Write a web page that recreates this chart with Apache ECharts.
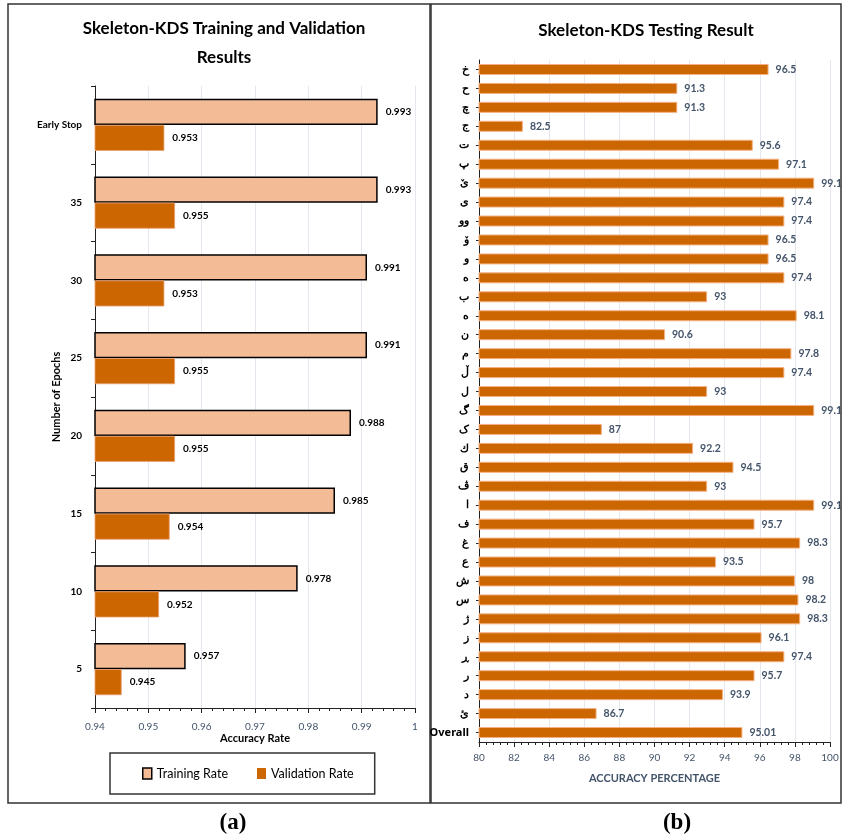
<!DOCTYPE html>
<html>
<head>
<meta charset="utf-8">
<script src="https://cdn.jsdelivr.net/npm/echarts@6/dist/echarts.min.js"></script>
<style>
html, body { margin: 0; padding: 0; background: #fff; }
#chart { width: 842px; height: 838px; }
</style>
</head>
<body>
<div id="chart"></div>
<script>
// (a) training / validation
const epochs = ['5', '10', '15', '20', '25', '30', '35', 'Early Stop']
const trainingRate = [0.957, 0.978, 0.985, 0.988, 0.991, 0.991, 0.993, 0.993]
const validationRate = [0.945, 0.952, 0.954, 0.955, 0.955, 0.953, 0.955, 0.953]

// (b) testing, top to bottom
const letters = ['خ', 'ح', 'چ', 'ج', 'ت', 'پ', 'ێ', 'ی', 'وو', 'ۆ', 'و', 'ە', 'ب', 'ه', 'ن', 'م', 'ڵ', 'ل', 'گ', 'ک', 'ك', 'ق', 'ڤ', 'ا', 'ف', 'غ', 'ع', 'ش', 'س', 'ژ', 'ز', 'ڕ', 'ر', 'د', 'ئ', 'Overall']
const testAccuracy = [96.5, 91.3, 91.3, 82.5, 95.6, 97.1, 99.1, 97.4, 97.4, 96.5, 96.5, 97.4, 93, 98.1, 90.6, 97.8, 97.4, 93, 99.1, 87, 92.2, 94.5, 93, 99.1, 95.7, 98.3, 93.5, 98, 98.2, 98.3, 96.1, 97.4, 95.7, 93.9, 86.7, 95.01]

const FONT = 'Lato'
const SLATE = '#44546A'
const PEACH = '#F4BC96'
const ORANGE = '#CC6600'

const chart = echarts.init(document.getElementById('chart'))

const option = {
	backgroundColor: '#fff',
	textStyle: { fontFamily: FONT },
	animation: false,
	title: [
		{
			text: 'Skeleton-KDS Training and Validation\nResults',
			left: 219, top: 9, textAlign: 'center',
			textStyle: { fontFamily: FONT, fontSize: 17, fontWeight: 'bold', color: '#000', lineHeight: 29 }
		},
		{
			text: 'Skeleton-KDS Testing Result',
			left: 641, top: 17, textAlign: 'center',
			textStyle: { fontFamily: FONT, fontSize: 17, fontWeight: 'bold', color: '#000' }
		},
		{
			text: '(a)', left: 228, top: 807, textAlign: 'center',
			textStyle: { fontFamily: 'Liberation Serif', fontSize: 23, fontWeight: 'bold', color: '#000' }
		},
		{
			text: '(b)', left: 672, top: 807, textAlign: 'center',
			textStyle: { fontFamily: 'Liberation Serif', fontSize: 23, fontWeight: 'bold', color: '#000' }
		}
	],
	graphic: [
		{ type: 'rect', shape: { x: 8, y: 4, width: 422, height: 799 }, style: { fill: 'none', stroke: '#333', lineWidth: 1.5 }, silent: true },
		{ type: 'rect', shape: { x: 431, y: 4, width: 410, height: 799 }, style: { fill: 'none', stroke: '#333', lineWidth: 1.5 }, silent: true }
	],
	legend: {
		left: 110, top: 753,
		padding: [14, 21, 14, 32],
		borderColor: '#333', borderWidth: 1.5,
		itemWidth: 9, itemHeight: 11, itemGap: 29,
		icon: 'rect',
		textStyle: { fontFamily: FONT, fontSize: 12.5, color: '#000' },
		data: [
			{ name: 'Training Rate', itemStyle: { color: PEACH, borderColor: '#000', borderWidth: 1.5 } },
			{ name: 'Validation Rate', itemStyle: { color: ORANGE, borderWidth: 0 } }
		]
	},
	grid: [
		{ left: 95, right: 427, top: 86, bottom: 130 },
		{ left: 479, right: 12, top: 60, bottom: 96 }
	],
	xAxis: [
		{
			gridIndex: 0, type: 'value', min: 0.94, max: 1, interval: 0.01,
			name: 'Accuracy Rate', nameLocation: 'middle', nameGap: 25, nameMoveOverlap: false,
			nameTextStyle: { fontFamily: FONT, fontSize: 11, fontWeight: 'bold', color: '#000' },
			axisLine: { show: true, lineStyle: { color: '#222', width: 1 } },
			axisTick: { show: true, length: 5, lineStyle: { color: '#222' } },
			minorTick: { show: true, splitNumber: 5, length: 3, lineStyle: { color: '#222' } },
			axisLabel: { color: SLATE, fontSize: 10, margin: 14, formatter: v => String(+v.toFixed(2)) },
			splitLine: { show: true, lineStyle: { color: '#E4E8EE', width: 1 } }
		},
		{
			gridIndex: 1, type: 'value', min: 80, max: 100, interval: 2,
			name: 'ACCURACY PERCENTAGE', nameLocation: 'middle', nameGap: 31, nameMoveOverlap: false,
			nameTextStyle: { fontFamily: FONT, fontSize: 11, fontWeight: 'bold', color: SLATE },
			axisLine: { show: true, lineStyle: { color: '#222', width: 1 } },
			axisTick: { show: true, length: 5, lineStyle: { color: '#222' } },
			minorTick: { show: true, splitNumber: 5, length: 3, lineStyle: { color: '#222' } },
			axisLabel: { color: SLATE, fontSize: 10, margin: 11 },
			splitLine: { show: true, lineStyle: { color: '#E4E8EE', width: 1 } }
		}
	],
	yAxis: [
		{
			gridIndex: 0, type: 'category', data: epochs,
			name: 'Number of Epochs', nameLocation: 'middle', nameRotate: 90, nameGap: 33, nameMoveOverlap: false,
			nameTextStyle: { fontFamily: FONT, fontSize: 11, fontWeight: 'bold', color: '#000' },
			axisLine: { show: true, lineStyle: { color: '#222', width: 1 } },
			axisTick: { show: true, length: 4, lineStyle: { color: '#222' } },
			axisLabel: { color: '#000', fontSize: 10, fontWeight: 'bold', margin: 13 }
		},
		{
			gridIndex: 1, type: 'category', data: letters, inverse: true,
			axisLine: { show: true, lineStyle: { color: '#222', width: 1 } },
			axisTick: { show: true, length: 3, alignWithLabel: true, lineStyle: { color: '#222' } },
			axisLabel: { color: '#000', fontSize: 11, fontWeight: 'bold', margin: 10, fontFamily: 'Noto Sans' }
		}
	],
	series: [
		{
			name: 'Training Rate', type: 'bar', xAxisIndex: 0, yAxisIndex: 0,
			data: trainingRate,
			barGap: '0%', barCategoryGap: '33%',
			itemStyle: { color: PEACH, borderColor: '#000', borderWidth: 1.5 },
			label: { show: true, position: 'right', distance: 8, color: '#000', fontSize: 10, fontWeight: 'bold' }
		},
		{
			name: 'Validation Rate', type: 'bar', xAxisIndex: 0, yAxisIndex: 0,
			data: validationRate,
			barGap: '0%', barCategoryGap: '33%',
			itemStyle: { color: ORANGE, borderColor: '#E8A070', borderWidth: 0.8 },
			label: { show: true, position: 'right', distance: 8, color: '#000', fontSize: 10, fontWeight: 'bold' }
		},
		{
			name: 'Testing', type: 'bar', xAxisIndex: 1, yAxisIndex: 1,
			data: testAccuracy,
			barCategoryGap: '42%',
			itemStyle: { color: ORANGE, borderColor: '#F4B183', borderWidth: 1 },
			label: { show: true, position: 'right', distance: 7, color: SLATE, fontSize: 10.5, fontWeight: 'bold' }
		}
	]
}

chart.setOption(option)
</script>
</body>
</html>
